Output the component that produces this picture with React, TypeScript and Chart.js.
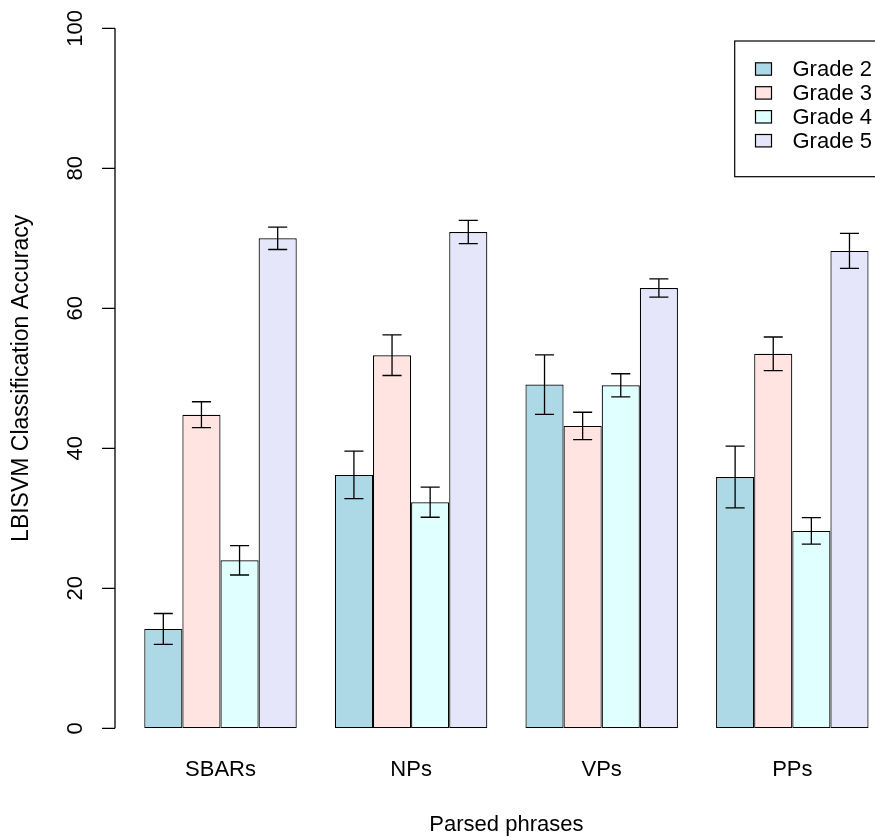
import React, { useEffect, useRef } from "react";
import { Chart, registerables } from "chart.js";

Chart.register(...registerables);

const categories = ["SBARs", "NPs", "VPs", "PPs"];
const seriesLabels = ["Grade 2", "Grade 3", "Grade 4", "Grade 5"];
const grade2 = [14.2, 36.2, 49.1, 35.9];
const grade3 = [44.8, 53.3, 43.2, 53.5];
const grade4 = [24.0, 32.3, 49.0, 28.2];
const grade5 = [70.0, 70.9, 62.9, 68.2];
const grade2Err = [2.2, 3.4, 4.25, 4.4];
const grade3Err = [1.85, 2.9, 1.95, 2.4];
const grade4Err = [2.1, 2.15, 1.65, 1.9];
const grade5Err = [1.6, 1.65, 1.3, 2.5];
const yTicks = [0, 20, 40, 60, 80, 100];
const fills = ["#ADD8E6", "#FFE4E1", "#E0FFFF", "#E6E6FA"];

const xTitle = "Parsed phrases";
const yTitle = "LBISVM Classification Accuracy";

const FONT = '"Liberation Sans", Arial, Helvetica, sans-serif';
const FS = 22;

const seriesValues = [grade2, grade3, grade4, grade5];
const seriesErrors = [grade2Err, grade3Err, grade4Err, grade5Err];

const rPlugin = {
  id: "rStyle",
  afterDatasetsDraw(chart: any) {
    const ctx = chart.ctx;
    const y = chart.scales.y;
    const area = chart.chartArea;
    ctx.save();
    // error bars
    ctx.strokeStyle = "#000";
    ctx.lineWidth = 1.3;
    seriesValues.forEach((vals, di) => {
      const meta = chart.getDatasetMeta(di);
      vals.forEach((v, i) => {
        const el = meta.data[i];
        const e = seriesErrors[di][i];
        const x = el.x;
        const yt = y.getPixelForValue(v + e);
        const yb = y.getPixelForValue(v - e);
        const cap = el.width / 4;
        ctx.beginPath();
        ctx.moveTo(x, yt);
        ctx.lineTo(x, yb);
        ctx.moveTo(x - cap, yt);
        ctx.lineTo(x + cap, yt);
        ctx.moveTo(x - cap, yb);
        ctx.lineTo(x + cap, yb);
        ctx.stroke();
      });
    });

    // y axis (R style)
    const axisX = area.left - 10.2;
    ctx.lineWidth = 1.3;
    ctx.beginPath();
    ctx.moveTo(axisX, y.getPixelForValue(yTicks[0]));
    ctx.lineTo(axisX, y.getPixelForValue(yTicks[yTicks.length - 1]));
    yTicks.forEach((t) => {
      const py = y.getPixelForValue(t);
      ctx.moveTo(axisX, py);
      ctx.lineTo(axisX - 13, py);
    });
    ctx.stroke();
    ctx.fillStyle = "#000";
    ctx.font = `${FS}px ${FONT}`;
    ctx.textAlign = "center";
    ctx.textBaseline = "alphabetic";
    yTicks.forEach((t) => {
      const py = y.getPixelForValue(t);
      ctx.save();
      ctx.translate(82, py);
      ctx.rotate(-Math.PI / 2);
      ctx.fillText(String(t), 0, 0);
      ctx.restore();
    });

    // legend
    const lx = 734.7;
    const ly = 41;
    const lh = 135.7;
    ctx.lineWidth = 1.2;
    ctx.strokeStyle = "#000";
    ctx.strokeRect(lx, ly, 170, lh);
    ctx.textAlign = "left";
    ctx.textBaseline = "middle";
    seriesLabels.forEach((lab, i) => {
      const cy = 69 + i * 23.9;
      ctx.fillStyle = fills[i];
      ctx.fillRect(755.5, cy - 6.2, 16, 12.4);
      ctx.strokeRect(755.5, cy - 6.2, 16, 12.4);
      ctx.fillStyle = "#000";
      ctx.fillText(lab, 792.5, cy + 1);
    });
    ctx.restore();
  },
};

export default function App() {
  const ref = useRef<HTMLCanvasElement | null>(null);
  useEffect(() => {
    if (!ref.current) return;
    const chart = new Chart(ref.current, {
      type: "bar",
      data: {
        labels: categories,
        datasets: seriesLabels.map((lab, i) => ({
          label: lab,
          data: seriesValues[i],
          backgroundColor: fills[i],
          borderColor: "#000",
          borderWidth: 1.2,
          borderSkipped: false,
          barPercentage: 1,
          categoryPercentage: 0.8,
        })),
      },
      options: {
        responsive: false,
        animation: false,
        layout: { padding: { top: 28.3, right: 12.4, left: 0, bottom: 0 } },
        plugins: {
          legend: { display: false },
          tooltip: { enabled: false },
        },
        scales: {
          x: {
            type: "category",
            offset: true,
            grid: { display: false, drawTicks: false },
            border: { display: false },
            ticks: {
              color: "#000",
              font: { family: FONT, size: FS },
              padding: 28.5,
              maxRotation: 0,
              autoSkip: false,
            },
            title: {
              display: true,
              text: xTitle,
              color: "#000",
              font: { family: FONT, size: FS, lineHeight: 1 },
              padding: { top: 0, bottom: 1 },
            },
            afterFit: (s: any) => {
              s.height = 837 - 728.3;
            },
          },
          y: {
            min: 0,
            max: 100,
            grid: { display: false, drawTicks: false },
            border: { display: false },
            ticks: { display: false },
            title: {
              display: true,
              text: yTitle,
              color: "#000",
              font: { family: FONT, size: 23, lineHeight: 1 },
              padding: { top: 9.7, bottom: 0 },
            },
            afterFit: (s: any) => {
              s.width = 125.2;
            },
          },
        },
      },
      plugins: [rPlugin],
    });
    return () => chart.destroy();
  }, []);

  return (
    <div
      style={{
        position: "fixed",
        left: 0,
        top: 0,
        width: 875,
        height: 837,
        overflow: "hidden",
        background: "#fff",
      }}
    >
      <canvas ref={ref} width={900} height={837} style={{ display: "block", width: 900, height: 837 }} />
    </div>
  );
}
